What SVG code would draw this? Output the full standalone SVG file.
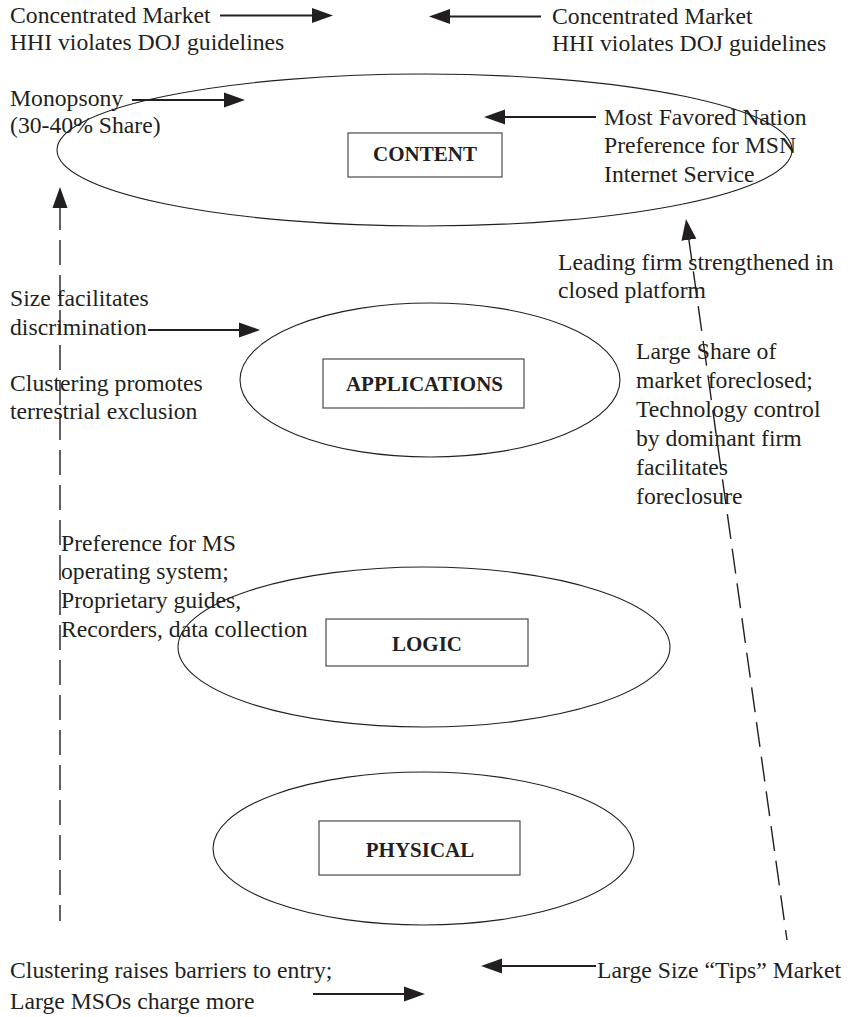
<svg xmlns="http://www.w3.org/2000/svg" width="848" height="1017" viewBox="0 0 848 1017">
<style>
  .bg { fill: #ffffff; }
  .layer { fill: none; stroke: #231f20; stroke-width: 1.1; }
  .box { fill: none; stroke: #4a4a4a; stroke-width: 1.2; }
  .lbl { font-family: "Liberation Serif", "Times New Roman", serif; font-weight: bold; font-size: 21px; fill: #231f20; text-anchor: middle; }
  .note { font-family: "Liberation Serif", "Times New Roman", serif; font-size: 23.7px; fill: #231f20; }
  .solid { fill: none; stroke: #231f20; stroke-width: 2.2; }
  .dash { fill: none; stroke: #231f20; stroke-width: 1.4; stroke-dasharray: 25 10; }
</style>
<defs>
  <marker id="ah" markerUnits="userSpaceOnUse" markerWidth="21" markerHeight="16" refX="3" refY="8" orient="auto-start-reverse">
    <path d="M0,0.5 L21,8 L0,15.5 z" fill="#231f20"/>
  </marker>
</defs>
<rect class="bg" x="0" y="0" width="848" height="1017"/>

<g id="node-content">
  <ellipse class="layer" cx="424.5" cy="150" rx="367.5" ry="76"/>
  <rect class="box" x="348" y="133" width="154" height="44"/>
  <text class="lbl" x="425" y="161">CONTENT</text>
</g>
<g id="node-applications">
  <ellipse class="layer" cx="430" cy="380" rx="190" ry="77"/>
  <rect class="box" x="323" y="359" width="201" height="49"/>
  <text class="lbl" x="424.5" y="391">APPLICATIONS</text>
</g>
<g id="node-logic">
  <ellipse class="layer" cx="424" cy="647" rx="246" ry="80"/>
  <rect class="box" x="326" y="619" width="202" height="47"/>
  <text class="lbl" x="427" y="651">LOGIC</text>
</g>
<g id="node-physical">
  <ellipse class="layer" cx="423.5" cy="848.5" rx="210.5" ry="76.5"/>
  <rect class="box" x="319" y="821" width="201" height="54"/>
  <text class="lbl" x="420" y="857">PHYSICAL</text>
</g>

<g id="note-concentrated-left">
  <text class="note" x="10" y="23">Concentrated Market</text>
  <text class="note" x="10" y="50">HHI violates DOJ guidelines</text>
</g>
<g id="note-concentrated-right">
  <text class="note" x="552" y="24">Concentrated Market</text>
  <text class="note" x="552" y="51">HHI violates DOJ guidelines</text>
</g>
<g id="note-monopsony">
  <text class="note" x="10" y="106">Monopsony</text>
  <text class="note" x="10" y="133">(30-40% Share)</text>
</g>
<g id="note-mfn">
  <text class="note" x="604" y="124.5">Most Favored Nation</text>
  <text class="note" x="604" y="153">Preference for MSN</text>
  <text class="note" x="604" y="181.5">Internet Service</text>
</g>
<g id="note-leading">
  <text class="note" x="558" y="270">Leading firm strengthened in</text>
  <text class="note" x="558" y="298">closed platform</text>
</g>
<g id="note-size">
  <text class="note" x="10" y="306">Size facilitates</text>
  <text class="note" x="10" y="335">discrimination</text>
</g>
<g id="note-clustering-promotes">
  <text class="note" x="10" y="391">Clustering promotes</text>
  <text class="note" x="10" y="419">terrestrial exclusion</text>
</g>
<g id="note-large-share">
  <text class="note" x="636" y="359">Large Share of</text>
  <text class="note" x="636" y="388">market foreclosed;</text>
  <text class="note" x="636" y="417">Technology control</text>
  <text class="note" x="636" y="446">by dominant firm</text>
  <text class="note" x="636" y="475">facilitates</text>
  <text class="note" x="636" y="504">foreclosure</text>
</g>
<g id="note-preference-ms">
  <text class="note" x="61" y="551">Preference for MS</text>
  <text class="note" x="61" y="579">operating system;</text>
  <text class="note" x="61" y="608">Proprietary guides,</text>
  <text class="note" x="61" y="637">Recorders, data collection</text>
</g>
<g id="note-clustering-raises">
  <text class="note" x="10" y="978">Clustering raises barriers to entry;</text>
  <text class="note" x="10" y="1009">Large MSOs charge more</text>
</g>
<g id="note-tips">
  <text class="note" x="597" y="978">Large Size “Tips” Market</text>
</g>

<g id="connectors">
  <line class="solid" x1="220" y1="15.5" x2="315" y2="15.5" marker-end="url(#ah)"/>
  <line class="solid" x1="541" y1="16.5" x2="447" y2="16.5" marker-end="url(#ah)"/>
  <line class="solid" x1="132" y1="100" x2="227" y2="100" marker-end="url(#ah)"/>
  <line class="solid" x1="596" y1="117" x2="502" y2="117" marker-end="url(#ah)"/>
  <line class="solid" x1="148" y1="330" x2="242" y2="330" marker-end="url(#ah)"/>
  <line class="solid" x1="313" y1="994" x2="407" y2="994" marker-end="url(#ah)"/>
  <line class="solid" x1="596" y1="966" x2="499" y2="966" marker-end="url(#ah)"/>
  <line class="dash" x1="60" y1="205" x2="60" y2="921" marker-start="url(#ah)"/>
  <line class="dash" x1="688.5" y1="236.8" x2="787" y2="940" marker-start="url(#ah)"/>
</g>
</svg>
